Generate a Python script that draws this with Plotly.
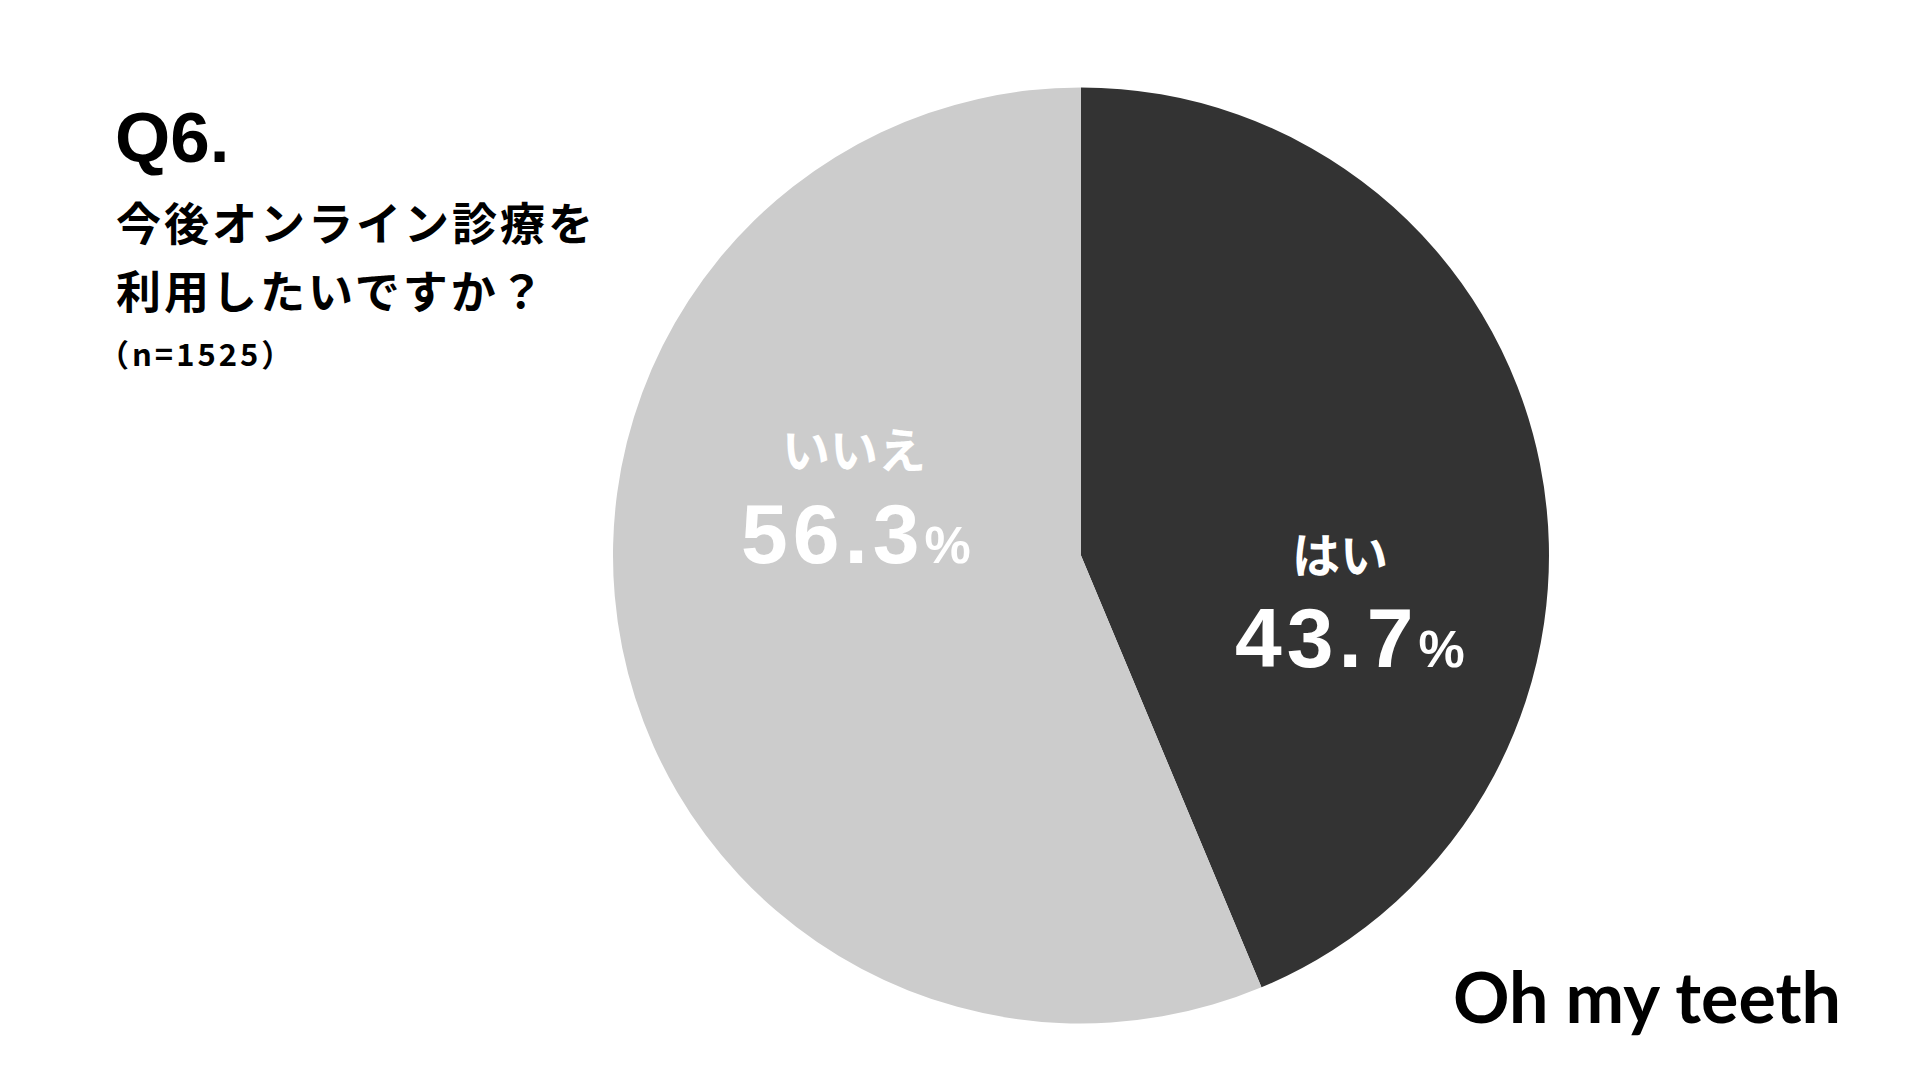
import plotly.graph_objects as go

labels = ["はい", "いいえ"]
values = [43.7, 56.3]
colors = ["#333333", "#cccccc"]

title_q = "Q6."
title_lines = ["今後オンライン診療を", "利用したいですか？"]
sample_note = "（n=1525）"
logo_text = "Oh my teeth"

W, H = 1920, 1080
cx, cy, r = 1081, 555.5, 468

NUM_FONT = "Liberation Sans, Arial, sans-serif"
JP_FONT = "Noto Sans CJK JP, sans-serif"

fig = go.Figure(
    go.Pie(
        labels=labels,
        values=values,
        sort=False,
        direction="clockwise",
        rotation=0,
        marker=dict(colors=colors, line=dict(width=0)),
        textinfo="none",
        hoverinfo="skip",
        showlegend=False,
        domain=dict(x=[(cx - r) / W, (cx + r) / W], y=[1 - (cy + r) / H, 1 - (cy - r) / H]),
    )
)


def px(x, y):
    return dict(x=x / W, y=1 - y / H, xref="paper", yref="paper", showarrow=False)


annotations = [
    dict(text=title_q, xanchor="left", yanchor="middle",
         font=dict(size=71, family=NUM_FONT, color="#000", weight="bold"), **px(113, 137)),
    dict(text=f"<span style='letter-spacing:3px'>{title_lines[0]}</span>", xanchor="left", yanchor="middle",
         font=dict(size=45, family=JP_FONT, color="#000", weight="bold"), **px(114, 222)),
    dict(text=f"<span style='letter-spacing:3px'>{title_lines[1]}</span>", xanchor="left", yanchor="middle",
         font=dict(size=45, family=JP_FONT, color="#000", weight="bold"), **px(114, 289)),
    dict(text=f"<span style='letter-spacing:3px'>{sample_note}</span>", xanchor="left", yanchor="middle",
         font=dict(size=31, family=JP_FONT, color="#000", weight="bold"), **px(96, 352)),
    dict(text=logo_text, xanchor="center", yanchor="middle",
         font=dict(size=70, family="Lato, sans-serif", color="#000", weight="bold"), **px(1647, 996)),
]

# slice label positions (label centre, value centre) in pixels
label_pos = [((1340, 552), (1350, 638)), ((854, 447), (856, 534))]
for lab, val, ((lx, ly), (vx, vy)) in zip(labels, values, label_pos):
    annotations.append(dict(text=lab, xanchor="center", yanchor="middle",
                            font=dict(size=48, family=JP_FONT, color="white", weight="bold"), **px(lx, ly)))
    annotations.append(dict(
        text=(f"<span style='font-size:84px;letter-spacing:5px'>{val:.1f}</span>"
              f"<span style='font-size:52px'>%</span>"),
        xanchor="center", yanchor="middle",
        font=dict(size=84, family=NUM_FONT, color="white", weight="bold"), **px(vx, vy)))

fig.update_layout(
    width=W,
    height=H,
    margin=dict(l=0, r=0, t=0, b=0),
    paper_bgcolor="white",
    plot_bgcolor="white",
    annotations=annotations,
)

fig.write_html("out.html", config={"displayModeBar": False},
               post_script="document.body.style.margin='0';document.body.style.overflow='hidden';")
